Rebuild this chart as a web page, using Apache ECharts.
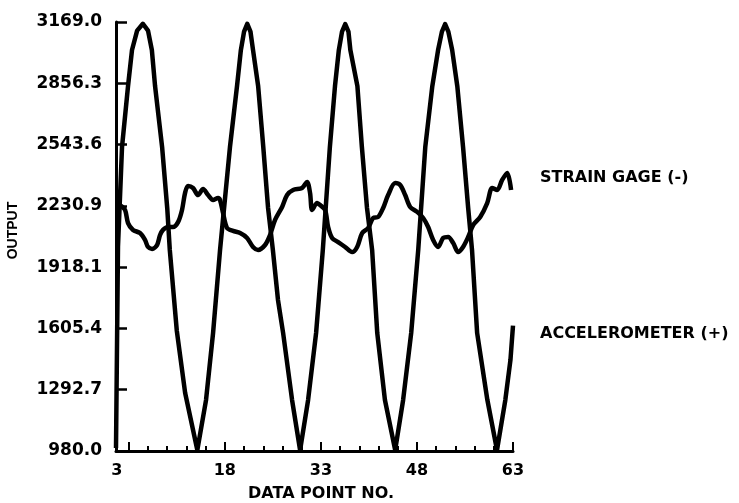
<!DOCTYPE html>
<html>
<head>
<meta charset="utf-8">
<script src="https://cdn.jsdelivr.net/npm/echarts@6/dist/echarts.min.js"></script>
<style>
  html, body { margin: 0; padding: 0; background: #fff; }
  #chart { width: 739px; height: 503px; }
</style>
</head>
<body>
<div id="chart"></div>
<script>
// x positions (data point no.) and output values
const accelX = [1.0, 1.31, 1.94, 2.88, 3.5, 4.3, 5.2, 6.0, 6.6, 7.1, 8.2, 9.0, 9.4, 10.5, 11.8, 13.7,
  15.06, 16.16, 17.25, 18.8, 19.9, 20.5, 21.0, 21.5, 22.0, 22.4, 23.2, 24.0, 24.75, 25.5, 26.3, 27.1, 28.5, 29.75,
  31.0, 32.25, 33.3, 34.4, 35.2, 35.8, 36.3, 36.8, 37.3, 37.6, 38.7, 39.4, 40.2, 41.0, 41.8, 43.0, 44.6,
  45.84, 47.1, 48.2, 49.3, 50.4, 51.3, 51.9, 52.4, 52.9, 53.5, 54.3, 55.2, 56.0, 56.6, 57.4, 59.0, 60.5,
  61.8, 62.6, 63.0]
const accelVal = [995, 2021, 2531, 2842, 3026, 3125, 3160, 3125, 3026, 2842, 2531, 2220, 2006, 1592, 1276, 985,
  1240, 1582, 2006, 2531, 2842, 3026, 3120, 3160, 3120, 3026, 2842, 2531, 2220, 2006, 1750, 1582, 1240, 985,
  1240, 1582, 2006, 2531, 2842, 3026, 3120, 3158, 3120, 3026, 2842, 2531, 2220, 2006, 1582, 1240, 985,
  1240, 1582, 2006, 2531, 2842, 3026, 3120, 3158, 3120, 3026, 2842, 2531, 2220, 2006, 1582, 1240, 985,
  1240, 1444, 1620]

const strainX = [1.1, 1.63, 2.41, 2.88, 3.66, 4.75, 5.53, 6.0, 6.63, 7.41, 7.88, 8.34, 9.13, 9.9, 10.69, 11.31,
  11.78, 12.25, 13.03, 13.81, 14.6, 15.38, 16.16, 16.94, 17.25, 17.72, 18.34, 19.28, 20.38, 21.47, 22.4, 23.19,
  24.28, 25.06, 25.84, 26.94, 27.72, 28.66, 30.06, 30.84, 31.31, 31.63, 32.41, 32.88, 33.66, 34.13, 34.75, 35.69,
  36.78, 37.88, 38.66, 39.44, 40.38, 41.16, 41.94, 42.72, 43.5, 44.6, 45.38, 46.16, 46.94, 48.03, 48.97, 49.75,
  50.53, 51.31, 52.1, 52.88, 53.66, 54.44, 55.2, 56.0, 56.78, 57.88, 58.97, 59.75, 60.53, 61.31, 62.1, 62.7]
const strainVal = [2250, 2235, 2210, 2143, 2108, 2092, 2057, 2021, 2011, 2031, 2082, 2108, 2123, 2123, 2148, 2210,
  2296, 2332, 2322, 2286, 2317, 2286, 2261, 2271, 2261, 2194, 2118, 2103, 2092, 2067, 2021, 2006,
  2031, 2082, 2159, 2225, 2286, 2312, 2322, 2353, 2296, 2210, 2245, 2235, 2210, 2123, 2067, 2046,
  2021, 1995, 2021, 2092, 2118, 2169, 2174, 2220, 2286, 2347, 2337, 2286, 2225, 2200, 2169, 2123,
  2057, 2021, 2067, 2072, 2041, 1995, 2021, 2072, 2133, 2174, 2245, 2322, 2312, 2363, 2399, 2312]

const xTickLabels = [3, 18, 33, 48, 63]
const xMinorTicks = [3, 6, 9, 12, 15, 18, 21, 24, 27, 30, 33, 36, 39, 42, 45, 48, 51, 54, 57, 60, 63]
const yTickLabels = ['980.0', '1292.7', '1605.4', '1918.1', '2230.9', '2543.6', '2856.3', '3169.0']
const yTicks = yTickLabels.map(Number)

const seriesNames = ['ACCELEROMETER (+)', 'STRAIN GAGE (-)']

const zip = (xs, ys) => xs.map((x, i) => [x, ys[i]])
const font = '"DejaVu Sans", sans-serif'

const chart = echarts.init(document.getElementById('chart'), null, { renderer: 'canvas' })
chart.setOption({
  animation: false,
  backgroundColor: '#fff',
  grid: { left: 116, right: 226, top: 22, bottom: 52, containLabel: false, outerBoundsMode: 'none' },
  xAxis: [
    {
      type: 'value',
      min: 1,
      max: 63,
      name: 'DATA POINT NO.',
      nameLocation: 'middle',
      nameGap: 35,
      nameTextStyle: { color: '#000', fontFamily: font, fontWeight: 'bold', fontSize: 16, padding: [0, 0, 0, 13] },
      axisLine: { show: true, lineStyle: { color: '#000', width: 3 } },
      axisTick: { show: true, inside: true, length: 5, customValues: xMinorTicks, lineStyle: { color: '#000', width: 2 } },
      axisLabel: {
        customValues: xTickLabels,
        margin: 12,
        color: '#000',
        fontFamily: font,
        fontWeight: 'bold',
        fontSize: 16,
        formatter: (v) => (v === 3 ? '{s|3}' : String(v)),
        rich: { s: { padding: [0, 24, 0, 0], fontFamily: font, fontWeight: 'bold', fontSize: 16, color: '#000' } },
      },
      splitLine: { show: false },
    },
    {
      type: 'value',
      position: 'bottom',
      min: 1,
      max: 63,
      axisLine: { show: false },
      axisTick: { show: true, inside: true, length: 9, customValues: xTickLabels, lineStyle: { color: '#000', width: 2 } },
      axisLabel: { show: false },
      splitLine: { show: false },
    },
  ],
  yAxis: {
    type: 'value',
    min: 980,
    max: 3169,
    name: 'OUTPUT',
    nameLocation: 'middle',
    nameGap: 96,
    nameTextStyle: { color: '#000', fontFamily: '"Liberation Sans", sans-serif', fontWeight: 'bold', fontSize: 14, padding: [0, 0, 0, 12] },
    axisLine: { show: true, lineStyle: { color: '#000', width: 3 } },
    axisTick: { show: true, inside: true, length: 11, customValues: yTicks, lineStyle: { color: '#000', width: 2.5 } },
    axisLabel: {
      customValues: yTicks,
      margin: 14,
      color: '#000',
      fontFamily: font,
      fontWeight: 'bold',
      fontSize: 17,
      formatter: (v) => v.toFixed(1),
    },
    splitLine: { show: false },
  },
  series: [
    {
      name: seriesNames[0],
      type: 'line',
      data: zip(accelX, accelVal),
      showSymbol: false,
      lineStyle: { color: '#000', width: 4.5, join: 'round' },
      z: 3,
    },
    {
      name: seriesNames[1],
      type: 'line',
      data: zip(strainX, strainVal),
      showSymbol: false,
      smooth: 0.3,
      lineStyle: { color: '#000', width: 4.5 },
      z: 3,
    },
  ],
  graphic: [
    { type: 'text', x: 540, y: 178, style: { text: seriesNames[1], fill: '#000', font: 'bold 16px ' + font, verticalAlign: 'middle' } },
    { type: 'text', x: 540, y: 334, style: { text: seriesNames[0], fill: '#000', font: 'bold 16px ' + font, verticalAlign: 'middle' } },
  ],
})
</script>
</body>
</html>
